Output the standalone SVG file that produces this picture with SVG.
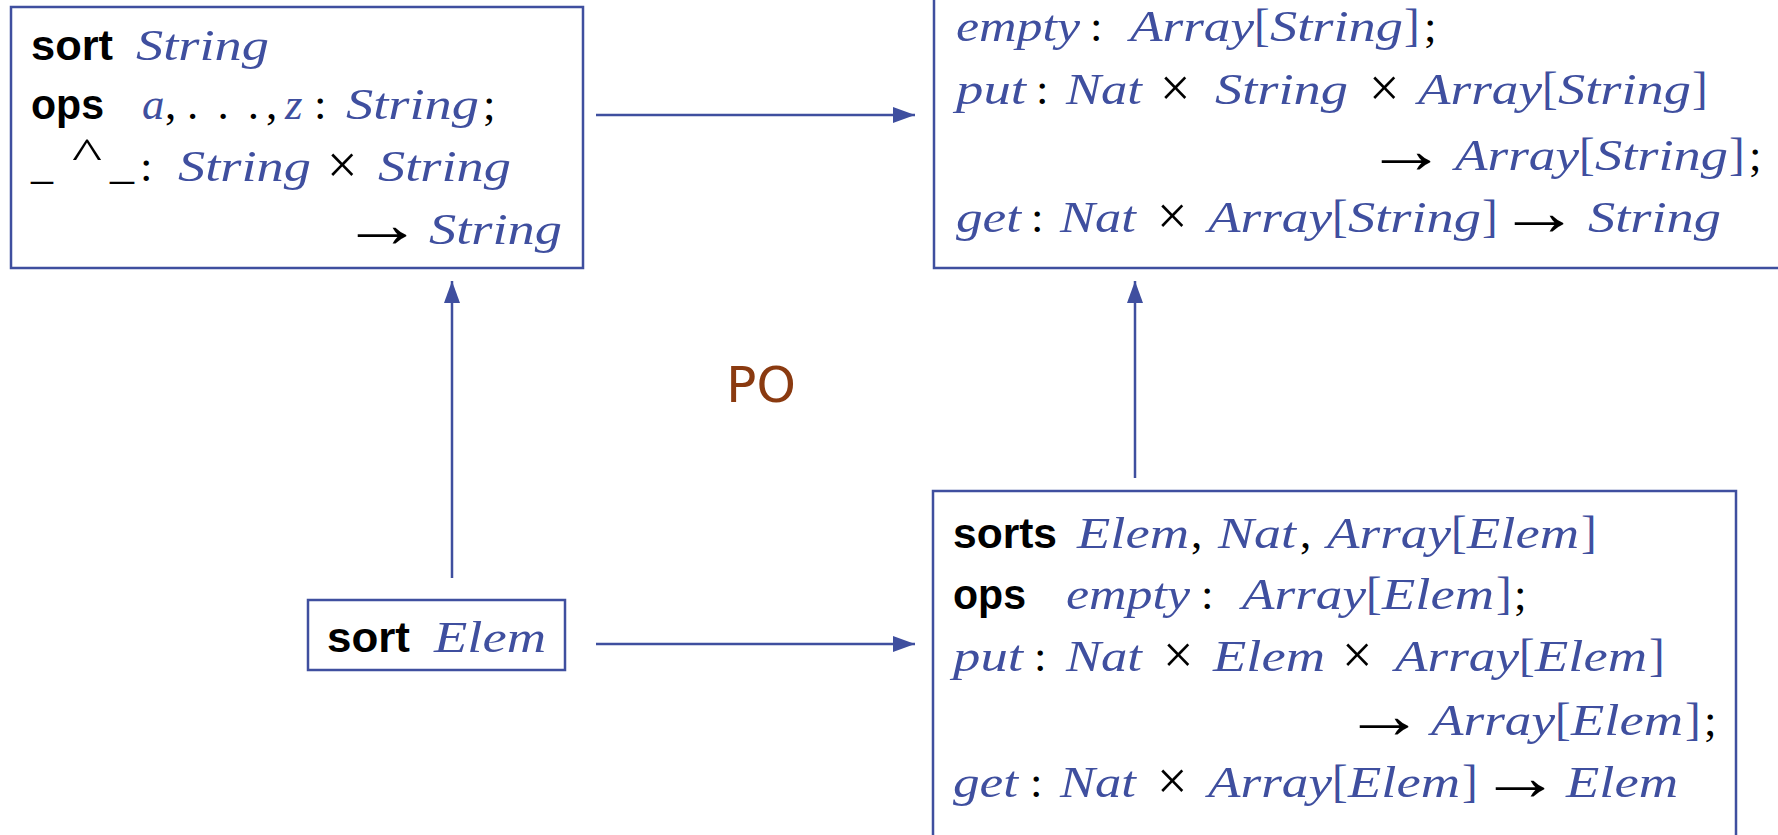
<svg xmlns="http://www.w3.org/2000/svg" width="1778" height="835" viewBox="0 0 1778 835">
<defs>
<style>
.box{fill:#fff;stroke:#3f4f9f;stroke-width:2.5}
.b{font-family:"Liberation Sans",Arial,sans-serif;font-weight:bold;font-size:43px;fill:#000}
.m{font-family:"Liberation Serif","Times New Roman",serif;font-style:italic;font-size:45px;fill:#3f4f9f}
.u{font-family:"Liberation Serif","DejaVu Serif",serif;font-size:45px;fill:#000}
.x{font-family:"Liberation Serif","DejaVu Serif",serif;font-size:54px;fill:#000}
.ar{font-family:"Liberation Serif","DejaVu Serif",serif;font-size:68px;fill:#000}
.ub{font-family:"Liberation Serif","DejaVu Serif",serif;font-size:47px;fill:#3f4f9f}
.po{font-family:"DejaVu Sans",sans-serif;font-size:50px;fill:#8a3a10}
.c{stroke:#3f4f9f;stroke-width:2.5;fill:none}
</style>
<marker id="ah" markerUnits="userSpaceOnUse" markerWidth="24" markerHeight="18" refX="22" refY="8" orient="auto">
<path d="M0,0 L22,8 L0,16 z" fill="#3f4f9f"/>
</marker>
</defs>
<rect width="1778" height="835" fill="#fff"/>

<g id="connectors">
<line class="c" x1="596" y1="115" x2="915" y2="115" marker-end="url(#ah)"/>
<line class="c" x1="596" y1="644" x2="915" y2="644" marker-end="url(#ah)"/>
<line class="c" x1="452" y1="578" x2="452" y2="281" marker-end="url(#ah)"/>
<line class="c" x1="1135" y1="478" x2="1135" y2="281" marker-end="url(#ah)"/>
</g>

<g id="node-string">
<rect class="box" x="11" y="7" width="572" height="261"/>
<text class="b" x="31" y="60" textLength="82" lengthAdjust="spacingAndGlyphs">sort</text>
<text class="m" x="136" y="60" textLength="133" lengthAdjust="spacingAndGlyphs">String</text>
<text class="b" x="31" y="119" textLength="73" lengthAdjust="spacingAndGlyphs">ops</text>
<text class="m" x="142" y="119">a</text>
<text class="u" x="165" y="119">,</text>
<text class="u" x="187" y="119" textLength="72" lengthAdjust="spacing">. . .</text>
<text class="u" x="266" y="119">,</text>
<text class="m" x="285" y="119">z</text>
<text class="u" x="314" y="119">:</text>
<text class="m" x="346" y="119" textLength="133" lengthAdjust="spacingAndGlyphs">String</text>
<text class="u" x="483" y="119">;</text>
<text class="u" x="31" y="178" textLength="22" lengthAdjust="spacingAndGlyphs">_</text>
<text class="u" x="72" y="168" textLength="30" lengthAdjust="spacingAndGlyphs">^</text>
<text class="u" x="110" y="178" textLength="24" lengthAdjust="spacingAndGlyphs">_</text>
<text class="u" x="140" y="181">:</text>
<text class="m" x="178" y="181" textLength="133" lengthAdjust="spacingAndGlyphs">String</text>
<text class="x" x="327" y="183">×</text>
<text class="m" x="378" y="181" textLength="133" lengthAdjust="spacingAndGlyphs">String</text>
<text class="ar" x="341" y="247" textLength="82" lengthAdjust="spacingAndGlyphs">→</text>
<text class="m" x="429" y="244" textLength="133" lengthAdjust="spacingAndGlyphs">String</text>
</g>

<g id="node-array-string">
<rect class="box" x="934" y="-10" width="900" height="278"/>
<text class="m" x="956" y="41" textLength="124" lengthAdjust="spacingAndGlyphs">empty</text>
<text class="u" x="1090" y="41">:</text>
<text class="m" x="1130" y="41" textLength="124" lengthAdjust="spacingAndGlyphs">Array</text>
<text class="ub" x="1254" y="41">[</text>
<text class="m" x="1270" y="41" textLength="133" lengthAdjust="spacingAndGlyphs">String</text>
<text class="ub" x="1404" y="41">]</text>
<text class="u" x="1424" y="41">;</text>

<text class="m" x="956" y="104" textLength="70" lengthAdjust="spacingAndGlyphs">put</text>
<text class="u" x="1036" y="104">:</text>
<text class="m" x="1066" y="104" textLength="76" lengthAdjust="spacingAndGlyphs">Nat</text>
<text class="x" x="1160" y="106">×</text>
<text class="m" x="1215" y="104" textLength="133" lengthAdjust="spacingAndGlyphs">String</text>
<text class="x" x="1369" y="106">×</text>
<text class="m" x="1418" y="104" textLength="124" lengthAdjust="spacingAndGlyphs">Array</text>
<text class="ub" x="1542" y="104">[</text>
<text class="m" x="1558" y="104" textLength="133" lengthAdjust="spacingAndGlyphs">String</text>
<text class="ub" x="1692" y="104">]</text>

<text class="ar" x="1365" y="173" textLength="82" lengthAdjust="spacingAndGlyphs">→</text>
<text class="m" x="1455" y="170" textLength="124" lengthAdjust="spacingAndGlyphs">Array</text>
<text class="ub" x="1579" y="170">[</text>
<text class="m" x="1595" y="170" textLength="133" lengthAdjust="spacingAndGlyphs">String</text>
<text class="ub" x="1729" y="170">]</text>
<text class="u" x="1749" y="170">;</text>

<text class="m" x="956" y="232" textLength="65" lengthAdjust="spacingAndGlyphs">get</text>
<text class="u" x="1031" y="232">:</text>
<text class="m" x="1060" y="232" textLength="76" lengthAdjust="spacingAndGlyphs">Nat</text>
<text class="x" x="1157" y="234">×</text>
<text class="m" x="1208" y="232" textLength="124" lengthAdjust="spacingAndGlyphs">Array</text>
<text class="ub" x="1332" y="232">[</text>
<text class="m" x="1348" y="232" textLength="133" lengthAdjust="spacingAndGlyphs">String</text>
<text class="ub" x="1482" y="232">]</text>
<text class="ar" x="1498" y="235" textLength="82" lengthAdjust="spacingAndGlyphs">→</text>
<text class="m" x="1588" y="232" textLength="133" lengthAdjust="spacingAndGlyphs">String</text>
</g>

<g id="node-elem">
<rect class="box" x="308" y="600" width="257" height="70"/>
<text class="b" x="327" y="652" textLength="83" lengthAdjust="spacingAndGlyphs">sort</text>
<text class="m" x="434" y="652" textLength="112" lengthAdjust="spacingAndGlyphs">Elem</text>
</g>

<g id="node-array-elem">
<rect class="box" x="933" y="491" width="803" height="400"/>
<text class="b" x="953" y="548" textLength="104" lengthAdjust="spacingAndGlyphs">sorts</text>
<text class="m" x="1077" y="548" textLength="112" lengthAdjust="spacingAndGlyphs">Elem</text>
<text class="u" x="1191" y="548">,</text>
<text class="m" x="1218" y="548" textLength="78" lengthAdjust="spacingAndGlyphs">Nat</text>
<text class="u" x="1300" y="548">,</text>
<text class="m" x="1327" y="548" textLength="124" lengthAdjust="spacingAndGlyphs">Array</text>
<text class="ub" x="1451" y="548">[</text>
<text class="m" x="1467" y="548" textLength="112" lengthAdjust="spacingAndGlyphs">Elem</text>
<text class="ub" x="1581" y="548">]</text>

<text class="b" x="953" y="609" textLength="73" lengthAdjust="spacingAndGlyphs">ops</text>
<text class="m" x="1066" y="609" textLength="124" lengthAdjust="spacingAndGlyphs">empty</text>
<text class="u" x="1201" y="609">:</text>
<text class="m" x="1242" y="609" textLength="124" lengthAdjust="spacingAndGlyphs">Array</text>
<text class="ub" x="1366" y="609">[</text>
<text class="m" x="1382" y="609" textLength="112" lengthAdjust="spacingAndGlyphs">Elem</text>
<text class="ub" x="1496" y="609">]</text>
<text class="u" x="1514" y="609">;</text>

<text class="m" x="953" y="671" textLength="70" lengthAdjust="spacingAndGlyphs">put</text>
<text class="u" x="1034" y="671">:</text>
<text class="m" x="1066" y="671" textLength="76" lengthAdjust="spacingAndGlyphs">Nat</text>
<text class="x" x="1163" y="673">×</text>
<text class="m" x="1213" y="671" textLength="112" lengthAdjust="spacingAndGlyphs">Elem</text>
<text class="x" x="1342" y="673">×</text>
<text class="m" x="1395" y="671" textLength="124" lengthAdjust="spacingAndGlyphs">Array</text>
<text class="ub" x="1519" y="671">[</text>
<text class="m" x="1535" y="671" textLength="112" lengthAdjust="spacingAndGlyphs">Elem</text>
<text class="ub" x="1649" y="671">]</text>

<text class="ar" x="1343" y="738" textLength="82" lengthAdjust="spacingAndGlyphs">→</text>
<text class="m" x="1431" y="735" textLength="124" lengthAdjust="spacingAndGlyphs">Array</text>
<text class="ub" x="1555" y="735">[</text>
<text class="m" x="1571" y="735" textLength="112" lengthAdjust="spacingAndGlyphs">Elem</text>
<text class="ub" x="1685" y="735">]</text>
<text class="u" x="1704" y="735">;</text>

<text class="m" x="953" y="797" textLength="65" lengthAdjust="spacingAndGlyphs">get</text>
<text class="u" x="1030" y="797">:</text>
<text class="m" x="1060" y="797" textLength="76" lengthAdjust="spacingAndGlyphs">Nat</text>
<text class="x" x="1157" y="799">×</text>
<text class="m" x="1208" y="797" textLength="124" lengthAdjust="spacingAndGlyphs">Array</text>
<text class="ub" x="1332" y="797">[</text>
<text class="m" x="1348" y="797" textLength="112" lengthAdjust="spacingAndGlyphs">Elem</text>
<text class="ub" x="1462" y="797">]</text>
<text class="ar" x="1479" y="800" textLength="82" lengthAdjust="spacingAndGlyphs">→</text>
<text class="m" x="1566" y="797" textLength="112" lengthAdjust="spacingAndGlyphs">Elem</text>
</g>

<g id="label-po">
<text class="po" x="761" y="402" text-anchor="middle">PO</text>
</g>
</svg>
